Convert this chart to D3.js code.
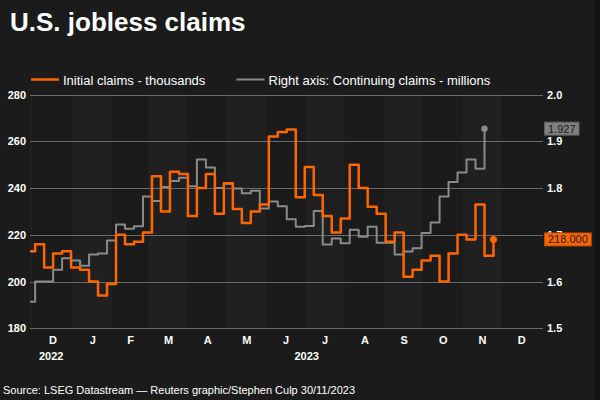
<!DOCTYPE html>
<html lang="en">
<head>
    <meta charset="UTF-8">
    <title>U.S. jobless claims</title>
    <script src="https://d3js.org/d3.v7.min.js"></script>
    <style>
        body {
            margin: 0;
            background: #1b1b1b;
        }
        svg text {
            font-family: "Liberation Sans", Arial, sans-serif;
        }
    </style>
</head>
<body>
    <div id="chart-container"></div>

    <script>
        // weekly values, first week ending Sat 26 Nov 2022
        const initialClaims = [
            213, 216, 206, 212, 213, 206, 205, 200, 194, 199, 220, 216, 217, 221,
            245, 230, 247, 246, 228, 240, 246, 229, 242, 231, 225, 230, 233,
            262, 264, 265, 236, 249, 237, 228, 221, 227, 250, 240, 232, 229,
            217, 221, 202, 205, 209, 211, 200, 212, 220, 218, 233, 211, 218
        ];
        const continuingClaims = [
            1.557, 1.600, 1.600, 1.625, 1.650, 1.645, 1.634, 1.658, 1.660, 1.688,
            1.722, 1.713, 1.718, 1.782, 1.772, 1.802, 1.815, 1.822, 1.804, 1.861,
            1.844, 1.800, 1.809, 1.799, 1.789, 1.794, 1.756, 1.771, 1.761, 1.733,
            1.717, 1.719, 1.751, 1.679, 1.692, 1.682, 1.711, 1.696, 1.717, 1.683,
            1.683, 1.658, 1.664, 1.671, 1.704, 1.726, 1.782, 1.813, 1.833, 1.861,
            1.841, 1.927
        ];
        const firstWeek = new Date(2022, 10, 26);

        const leftTicks = [180, 200, 220, 240, 260, 280];
        const rightTicks = [1.5, 1.6, 1.7, 1.8, 1.9, 2.0];
        const monthLetters = ["D", "J", "F", "M", "A", "M", "J", "J", "A", "S", "O", "N", "D"];
        const years = [2022, 2023];

        const width = 600;
        const height = 400;
        const plot = { left: 30, right: 541, gridRight: 543, top: 94.5, bottom: 328.3 };

        const orange = "#ff6600";
        const grey = "#8a8a8a";

        const weekDate = i => d3.timeDay.offset(firstWeek, 7 * i);
        const initialData = initialClaims.map((v, i) => ({ date: weekDate(i), value: v }));
        const continuingData = continuingClaims.map((v, i) => ({ date: weekDate(i), value: v }));

        const start = new Date(2022, 10, 29);
        const end = new Date(2024, 0, 1);

        const x = d3.scaleTime().domain([start, end]).range([plot.left, plot.right]);
        const yL = d3.scaleLinear().domain([180, 280]).range([plot.bottom, plot.top]);
        const yR = d3.scaleLinear().domain([1.5, 2.0]).range([plot.bottom, plot.top]);

        const svg = d3.select("#chart-container")
            .append("svg")
            .attr("width", width)
            .attr("height", height);

        svg.append("rect").attr("width", width).attr("height", height).attr("fill", "#1b1b1b");
        svg.append("rect").attr("x", 595).attr("width", 5).attr("height", height).attr("fill", "#121212");

        // month bands
        const months = d3.timeMonth.range(d3.timeMonth.floor(start), end);
        svg.append("g")
            .selectAll("rect")
            .data(months)
            .join("rect")
            .attr("x", d => Math.max(plot.left, x(d)))
            .attr("width", d => x(d3.timeMonth.offset(d, 1)) - Math.max(plot.left, x(d)))
            .attr("y", plot.top)
            .attr("height", plot.bottom - plot.top)
            .attr("fill", (d, i) => i % 2 === 0 ? "#202020" : "#1b1b1b");

        // gridlines
        svg.append("g")
            .selectAll("line")
            .data(leftTicks)
            .join("line")
            .attr("x1", plot.left)
            .attr("x2", plot.gridRight)
            .attr("y1", d => Math.round(yL(d)) + 0.5)
            .attr("y2", d => Math.round(yL(d)) + 0.5)
            .attr("stroke", "#6a6a6a")
            .attr("stroke-width", 1);

        // axes
        const leftAxis = svg.append("g")
            .attr("transform", `translate(${plot.left},0)`)
            .call(d3.axisLeft(yL).tickValues(leftTicks).tickSize(0).tickPadding(4));
        const rightAxis = svg.append("g")
            .attr("transform", `translate(${plot.gridRight},0)`)
            .call(d3.axisRight(yR).tickValues(rightTicks).tickSize(0).tickPadding(4).tickFormat(d3.format(".1f")));

        const monthMids = months.slice(1).map(d => {
            const a = x(d), b = Math.min(plot.right, x(d3.timeMonth.offset(d, 1)));
            return x.invert((a + b) / 2);
        });
        const bottomAxis = svg.append("g")
            .attr("transform", `translate(0,${plot.bottom})`)
            .call(d3.axisBottom(x).tickValues(monthMids).tickSize(0).tickPadding(7.5)
                .tickFormat((d, i) => monthLetters[i]));

        [leftAxis, rightAxis, bottomAxis].forEach(g => {
            g.select(".domain").remove();
            g.selectAll("text")
                .attr("fill", "#fff")
                .attr("font-size", 11)
                .attr("font-weight", "bold")
                .attr("font-family", "Liberation Sans, Arial, sans-serif");
        });

        // year labels, centred on visible part of the year
        svg.append("g")
            .selectAll("text")
            .data(years)
            .join("text")
            .attr("x", d => {
                const a = Math.max(plot.left, x(new Date(d, 0, 1)));
                const b = Math.min(plot.right, x(new Date(d + 1, 0, 1)));
                return (a + b) / 2;
            })
            .attr("y", 360)
            .attr("text-anchor", "middle")
            .attr("fill", "#fff")
            .attr("font-size", 11)
            .attr("font-weight", "bold")
            .text(d => d);

        // lines
        svg.append("clipPath").attr("id", "clip")
            .append("rect")
            .attr("x", plot.left).attr("y", 0)
            .attr("width", plot.right - plot.left).attr("height", height);

        const lines = svg.append("g").attr("clip-path", "url(#clip)");

        lines.append("path")
            .datum(continuingData)
            .attr("fill", "none")
            .attr("stroke", grey)
            .attr("stroke-width", 2)
            .attr("stroke-linejoin", "round")
            .attr("d", d3.line().curve(d3.curveStepAfter).x(d => x(d.date)).y(d => yR(d.value)));

        lines.append("path")
            .datum(initialData)
            .attr("fill", "none")
            .attr("stroke", orange)
            .attr("stroke-width", 2.5)
            .attr("stroke-linejoin", "round")
            .attr("d", d3.line().curve(d3.curveStepAfter).x(d => x(d.date)).y(d => yL(d.value)));

        const lastC = continuingData[continuingData.length - 1];
        const lastI = initialData[initialData.length - 1];

        svg.append("circle").attr("cx", x(lastC.date)).attr("cy", yR(lastC.value)).attr("r", 3.2).attr("fill", grey);
        svg.append("circle").attr("cx", x(lastI.date)).attr("cy", yL(lastI.value)).attr("r", 3.5).attr("fill", orange);

        // last value boxes on the right
        function valueBox(y, label, fill, stroke) {
            const g = svg.append("g");
            const rect = g.append("rect")
                .attr("x", 544.5)
                .attr("y", y - 6.5)
                .attr("height", 13)
                .attr("fill", fill)
                .attr("stroke", stroke);
            const t = g.append("text")
                .attr("x", 548)
                .attr("y", y + 4)
                .attr("fill", "#1a1a1a")
                .attr("font-size", 11)
                .text(label);
            rect.attr("width", t.node().getComputedTextLength() + 7);
        }
        valueBox(yR(lastC.value), lastC.value.toFixed(3), "#7f7f7f", "#5e5e5e");
        valueBox(yL(lastI.value), lastI.value.toFixed(3), orange, "#b84a00");

        // title
        svg.append("text")
            .attr("x", 10)
            .attr("y", 31)
            .attr("fill", "#fff")
            .attr("font-size", 26)
            .attr("font-weight", "bold")
            .text("U.S. jobless claims");

        // legend
        const legend = [
            { label: "Initial claims - thousands", color: orange, x: 31, w: 2.5 },
            { label: "Right axis: Continuing claims - millions", color: grey, x: 236.5, w: 2 }
        ];
        const lg = svg.append("g").selectAll("g").data(legend).join("g");
        lg.append("line")
            .attr("x1", d => d.x).attr("x2", d => d.x + 28)
            .attr("y1", 79.5).attr("y2", 79.5)
            .attr("stroke", d => d.color)
            .attr("stroke-width", d => d.w);
        lg.append("text")
            .attr("x", d => d.x + 32)
            .attr("y", 85)
            .attr("fill", "#fff")
            .attr("font-size", 13)
            .text(d => d.label);

        // source
        svg.append("text")
            .attr("x", 3)
            .attr("y", 394)
            .attr("fill", "#fff")
            .attr("font-size", 11)
            .text("Source: LSEG Datastream \u2014 Reuters graphic/Stephen Culp 30/11/2023");
    </script>
</body>
</html>
